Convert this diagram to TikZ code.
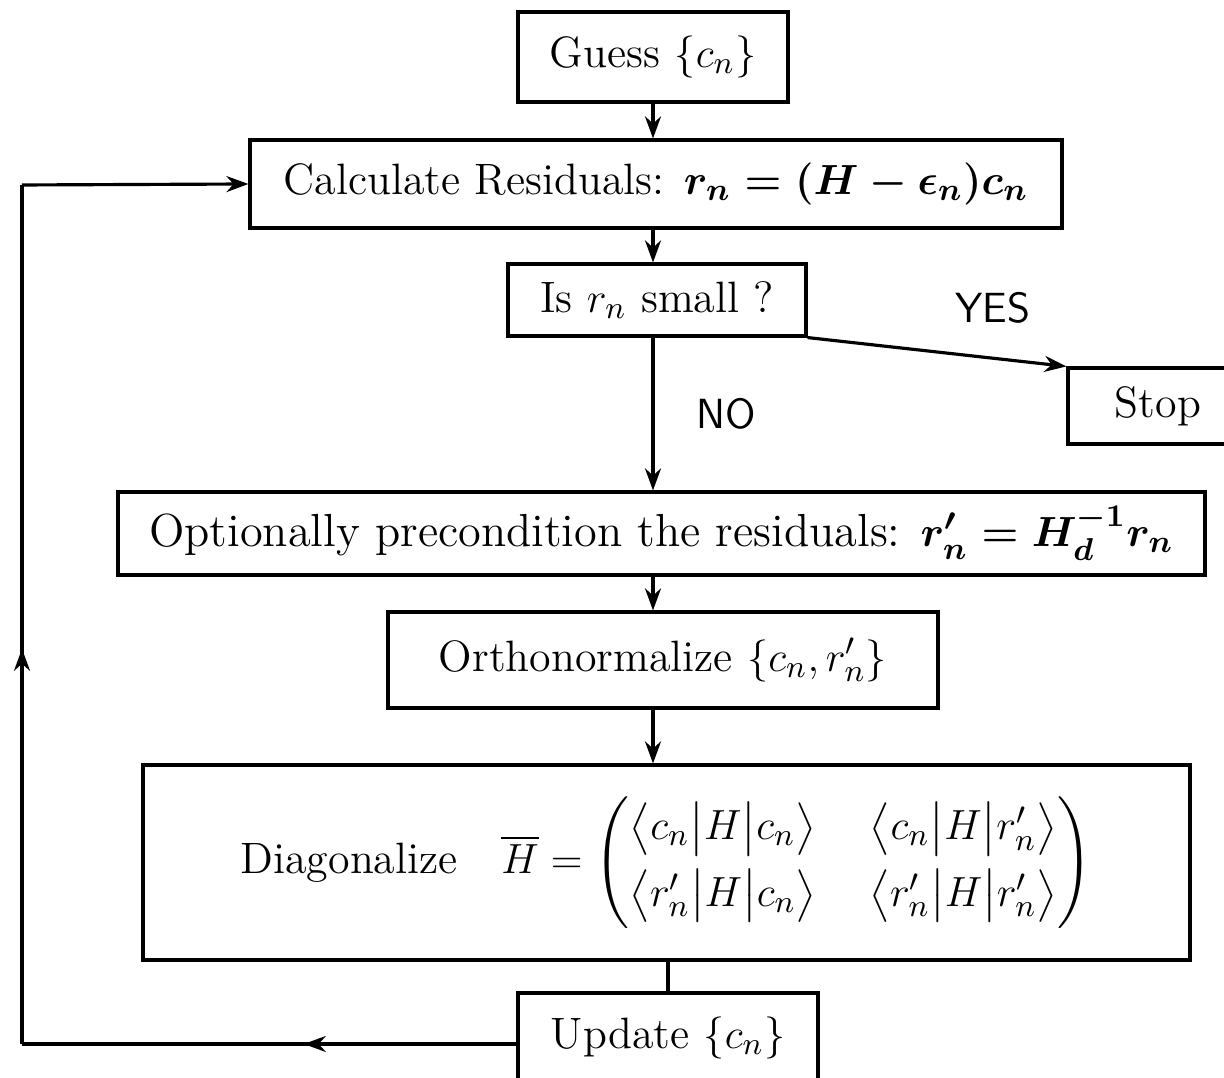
\documentclass[tikz,border=0pt]{standalone}
\usepackage{amsmath,amssymb}
\usepackage{tikz}
\usetikzlibrary{positioning,arrows.meta,decorations.markings}

\begin{document}
\begin{tikzpicture}[
    box/.style={draw, line width=0.9pt, inner sep=2pt, align=center,
                font=\fontsize{12.5}{15}\selectfont},
    arrow/.style={->, line width=0.9pt, >={Stealth[length=2.2mm,width=1.6mm]}},
    wire/.style={line width=0.9pt},
    midarrow/.style={wire, decoration={markings,
        mark=at position #1 with {\arrow{Stealth[length=2.2mm,width=1.6mm]}}},
        postaction={decorate}},
    hand/.style={font=\sffamily\large}
  ]
    \useasboundingbox (0,0) rectangle (12.24,-10.78);

    \node[box, minimum width=2.7cm, minimum height=0.9cm] (guess) at (6.53,-0.57) {Guess $\{c_n\}$};
    \node[box, minimum width=8.12cm, minimum height=0.88cm] (calc) at (6.56,-1.84)
      {Calculate Residuals: {\boldmath$r_n = (H - \epsilon_n)c_n$}};
    \node[box, minimum width=2.98cm, minimum height=0.72cm] (small) at (6.57,-3.00) {Is $r_n$ small ?};
    \node[box, minimum width=1.8cm, minimum height=0.76cm, text width=1.6cm] (stop) at (11.58,-4.06) {Stop};
    \node[box, minimum width=10.87cm, minimum height=0.83cm, font=\fontsize{13.2}{15}\selectfont] (precond) at (6.615,-5.335)
      {Optionally precondition the residuals: {\boldmath$r'_n = H_d^{-1} r_n$}};
    \node[box, minimum width=5.5cm, minimum height=0.96cm] (ortho) at (6.63,-6.60) {Orthonormalize $\{c_n, r'_n\}$};
    \node[box, minimum width=10.47cm, minimum height=1.95cm] (diag) at (6.665,-8.625)
      {Diagonalize\quad$\overline{H} = \left( \begin{matrix}
         \big\langle c_n \big| H \big| c_n \big\rangle & \hspace{0.4em}\big\langle c_n \big| H \big| r'_n \big\rangle \\[4pt]
         \big\langle r'_n \big| H \big| c_n \big\rangle & \hspace{0.4em}\big\langle r'_n \big| H \big| r'_n \big\rangle
       \end{matrix} \right)$};
    \node[box, minimum width=3.0cm, minimum height=0.9cm] (update) at (6.68,-10.38) {Update $\{c_n\}$};

    % main column
    \draw[arrow] (guess.south) -- (guess.south |- calc.north);
    \draw[arrow] (calc.south -| guess.south) -- (small.north -| guess.south);
    \draw[arrow] (small.south -| guess.south) -- node[hand, right=0.3cm] {NO} (precond.north -| guess.south);
    \draw[arrow] (small.south east) -- node[hand, above right=0.15cm and 0.05cm] {YES} (stop.north west);
    \draw[arrow] (precond.south -| guess.south) -- (ortho.north -| guess.south);
    \draw[arrow] (ortho.south -| guess.south) -- (diag.north -| guess.south);
    \draw[wire] (diag.south -| update.north) -- (update.north);

    % feedback loop
    \coordinate (lb) at (0.22,-10.44);
    \coordinate (lt) at (0.22,-1.85);
    \draw[midarrow=0.43] (update.west |- lb) -- (lb);
    \draw[midarrow=0.46] (lb) -- (lt);
    \draw[arrow] (lt) -- (calc.west);
  \end{tikzpicture}
\end{document}
